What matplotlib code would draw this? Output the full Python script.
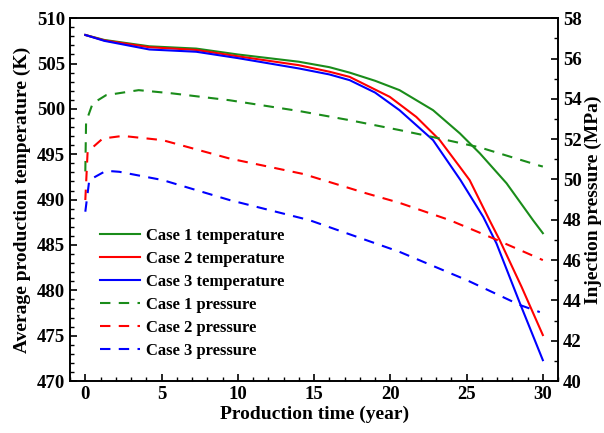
import matplotlib.pyplot as plt
from matplotlib.ticker import MultipleLocator

plt.rcParams['font.family'] = 'Liberation Serif'
plt.rcParams['font.weight'] = 'bold'

# temperature data (K)
t1 = [0, 1.25, 4.2, 7.27, 10, 14, 16, 17.33, 19, 20.6, 22.8, 24.56, 25.87, 27.62, 29.37, 30]
case1_temp = [508.15, 507.6, 506.9, 506.65, 506.0, 505.2, 504.6, 504.0, 503.1, 502.07, 499.86,
              497.3, 495.1, 491.8, 487.7, 486.3]

t2 = [0, 1.25, 4.2, 7.27, 10, 14, 16, 17.33, 19.96, 21.7, 23.24, 24.56, 25.2, 26.5, 27.18, 28.6, 30]
case2_temp = [508.15, 507.55, 506.8, 506.5, 505.8, 504.82, 504.1, 503.53, 501.33, 499.12, 496.56,
              493.6, 492.15, 487.74, 485.5, 480.4, 475.07]

t3 = [0, 1.25, 4.2, 7.27, 10, 14, 16, 17.33, 19, 20.6, 22.8, 24.6, 26.09, 26.96, 28.5, 30]
case3_temp = [508.15, 507.5, 506.55, 506.3, 505.6, 504.46, 503.8, 503.17, 501.8, 499.86, 496.56,
              492.15, 488.1, 485.17, 478.56, 472.3]

# pressure data (MPa)
tp1 = [0, 0.05, 0.48, 1.36, 3.5, 5.7, 9.45, 14.05, 17.33, 20.6, 23.24, 25.87, 29.8, 30]
case1_p = [50.4, 52.86, 53.77, 54.18, 54.43, 54.27, 53.93, 53.39, 52.94, 52.45, 52.03,
           51.59, 50.68, 50.64]

tp2 = [0, 0.15, 1.14, 2.45, 5.07, 9.45, 14.3, 18.43, 20.6, 23.9, 26.74, 30]
case2_p = [48.98, 51.37, 52.03, 52.16, 51.95, 51.04, 50.27, 49.31, 48.84, 47.98, 47.08, 46.0]

tp3 = [0, 0.26, 1.36, 2.23, 5.07, 9.45, 14.7, 20.6, 25.0, 28.5, 29.8]
case3_p = [48.4, 49.97, 50.43, 50.38, 49.97, 48.98, 47.98, 46.41, 45.01, 43.77, 43.42]

fig = plt.figure(figsize=(6.04, 4.33), dpi=100)
ax = fig.add_axes([0.116, 0.12, 0.808, 0.838])
ax2 = ax.twinx()

green = '#1a8c1a'
l1, = ax.plot(t1, case1_temp, color=green, lw=1.5, label='Case 1 temperature')
l2, = ax.plot(t2, case2_temp, color='red', lw=1.5, label='Case 2 temperature')
l3, = ax.plot(t3, case3_temp, color='blue', lw=1.5, label='Case 3 temperature')
l4, = ax2.plot(tp1, case1_p, color=green, lw=1.5, ls=(0, (5, 4)), label='Case 1 pressure')
l5, = ax2.plot(tp2, case2_p, color='red', lw=1.5, ls=(0, (5, 4)), label='Case 2 pressure')
l6, = ax2.plot(tp3, case3_p, color='blue', lw=1.5, ls=(0, (5, 4)), label='Case 3 pressure')

ax.set_xlim(-1, 31)
ax.set_ylim(470, 510)
ax2.set_ylim(40, 58)
ax.xaxis.set_major_locator(MultipleLocator(5))
ax.xaxis.set_minor_locator(MultipleLocator(1))
ax.yaxis.set_major_locator(MultipleLocator(5))
ax.yaxis.set_minor_locator(MultipleLocator(1))
ax2.yaxis.set_major_locator(MultipleLocator(2))
ax2.yaxis.set_minor_locator(MultipleLocator(1))

for a in (ax, ax2):
    a.tick_params(which='both', direction='in', labelsize=13.5)
    a.tick_params(which='major', length=5, width=1.2)
    a.tick_params(which='minor', length=3, width=1)
    for s in a.spines.values():
        s.set_linewidth(1.2)

ax.set_xlabel('Production time (year)', fontsize=14, fontweight='bold', labelpad=2)
ax.set_ylabel('Average production temperature (K)', fontsize=14, fontweight='bold', labelpad=4)
ax2.set_ylabel('Injection pressure (MPa)', fontsize=14, fontweight='bold')
ax2.yaxis.set_label_coords(1.055, 0.5)

ax.legend(handles=[l1, l2, l3, l4, l5, l6], loc='lower left', bbox_to_anchor=(0.03, 0.02),
          frameon=False, fontsize=12, handlelength=2.4, handletextpad=0.4,
          labelspacing=0.42)

fig.savefig('out.png', dpi=100)
